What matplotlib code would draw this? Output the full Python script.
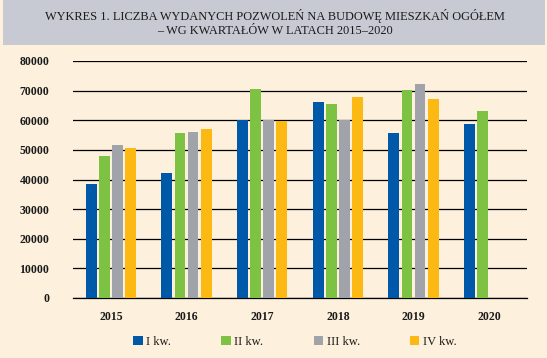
import matplotlib.pyplot as plt
import numpy as np
from matplotlib.patches import Rectangle, Patch

years = ['2015', '2016', '2017', '2018', '2019', '2020']
q1 = [38500, 42200, 60100, 66300, 55700, 58900]
q2 = [48000, 55800, 70400, 65500, 70300, 63100]
q3 = [51700, 56100, 60100, 60100, 72400, 0]
q4 = [50600, 57200, 59600, 68000, 67200, 0]
labels = ['I kw.', 'II kw.', 'III kw.', 'IV kw.']
colors = ['#0058a8', '#7dc242', '#a0a3a9', '#fdb913']

W, H = 547, 358
fig = plt.figure(figsize=(W / 100, H / 100), dpi=100)
fig.patch.set_facecolor('#fdf0dc')

# title box
fig.patches.append(Rectangle((3 / W, 1 - 45 / H), 542 / W, 45 / H,
                             transform=fig.transFigure, facecolor='#c8cad3',
                             edgecolor='none', zorder=0))
title_font = dict(family='Liberation Serif', fontsize=8.9, color='#1a1a1a',
                  ha='center', va='center')
fig.text(275 / W, 1 - 16 / H,
         'WYKRES 1. LICZBA WYDANYCH POZWOLEŃ NA BUDOWĘ MIESZKAŃ OGÓŁEM',
         **title_font)
fig.text(275 / W, 1 - 31 / H, '– WG KWARTAŁÓW W LATACH 2015–2020',
         **title_font)

ax = fig.add_axes([73 / W, 1 - 298 / H, 454 / W, 237 / H])
ax.set_facecolor('none')

x = np.arange(len(years))
width = 0.145
step = 0.172
series = [q1, q2, q3, q4]
for i, (vals, c, lab) in enumerate(zip(series, colors, labels)):
    ax.bar(x + (i - 1.5) * step, vals, width, color=c, label=lab, zorder=3)

ax.set_xlim(-0.5, len(years) - 0.5)
ax.set_ylim(0, 80000)
ax.set_yticks(np.arange(0, 80001, 10000))
ax.yaxis.grid(True, color='black', linewidth=0.9, zorder=0)
ax.set_axisbelow(True)
for s in ['left', 'right', 'top']:
    ax.spines[s].set_visible(False)
ax.spines['bottom'].set_color('black')
ax.spines['bottom'].set_linewidth(0.9)
ax.tick_params(length=0)
ax.tick_params(axis='y', pad=17)
ax.tick_params(axis='x', pad=9)
ax.set_xticks(x)
ax.set_xticklabels(years)
for t in ax.get_xticklabels() + ax.get_yticklabels():
    t.set_fontfamily('Liberation Serif')
    t.set_fontweight('bold')
    t.set_fontsize(8.5)
    t.set_color('#1a1a1a')

handles = [Patch(facecolor=c, edgecolor='none') for c in colors]
leg = fig.legend(handles, labels, loc='center', bbox_to_anchor=(295 / W, 1 - 342 / H),
                 ncol=4, frameon=False, handlelength=0.75, handleheight=0.75,
                 handletextpad=0.3, columnspacing=4.0,
                 prop={'family': 'Liberation Serif', 'size': 9})
for t in leg.get_texts():
    t.set_color('#1a1a1a')

fig.savefig('out.png', dpi=100, facecolor=fig.get_facecolor())
